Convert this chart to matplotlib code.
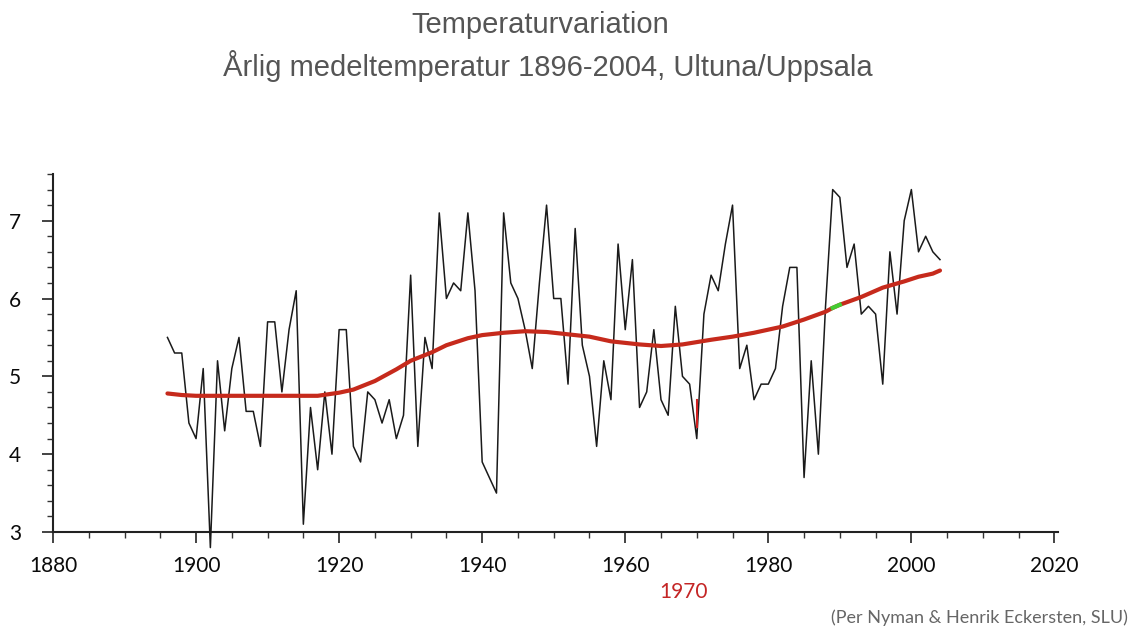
import matplotlib.pyplot as plt
from matplotlib.ticker import MultipleLocator

years = list(range(1896, 2005))
temps = [5.5, 5.3, 5.3, 4.4, 4.2, 5.1, 2.8, 5.2, 4.3, 5.1,
         5.5, 4.55, 4.55, 4.1, 5.7, 5.7, 4.8, 5.6, 6.1, 3.1,
         4.6, 3.8, 4.8, 4.0, 5.6, 5.6, 4.1, 3.9, 4.8, 4.7,
         4.4, 4.7, 4.2, 4.5, 6.3, 4.1, 5.5, 5.1, 7.1, 6.0,
         6.2, 6.1, 7.1, 6.1, 3.9, 3.7, 3.5, 7.1, 6.2, 6.0,
         5.6, 5.1, 6.2, 7.2, 6.0, 6.0, 4.9, 6.9, 5.4, 5.0,
         4.1, 5.2, 4.7, 6.7, 5.6, 6.5, 4.6, 4.8, 5.6, 4.7,
         4.5, 5.9, 5.0, 4.9, 4.2, 5.8, 6.3, 6.1, 6.7, 7.2,
         5.1, 5.4, 4.7, 4.9, 4.9, 5.1, 5.9, 6.4, 6.4, 3.7,
         5.2, 4.0, 5.9, 7.4, 7.3, 6.4, 6.7, 5.8, 5.9, 5.8,
         4.9, 6.6, 5.8, 7.0, 7.4, 6.6, 6.8, 6.6, 6.5]

# utjamnad kurva (avlast ur bilden)
smooth_years = [1896, 1898, 1900, 1905, 1910, 1915, 1917, 1920, 1922, 1925,
                1928, 1930, 1933, 1935, 1938, 1940, 1943, 1946, 1949, 1952,
                1955, 1958, 1960, 1962, 1965, 1968, 1970, 1972, 1975, 1978,
                1980, 1982, 1985, 1988, 1989, 1990, 1993, 1996, 1999, 2001,
                2003, 2004]
smooth_vals = [4.78, 4.76, 4.75, 4.75, 4.75, 4.75, 4.75, 4.79, 4.83, 4.94,
               5.09, 5.20, 5.31, 5.40, 5.49, 5.53, 5.56, 5.58, 5.57, 5.54,
               5.51, 5.45, 5.43, 5.41, 5.39, 5.41, 5.44, 5.47, 5.51, 5.56,
               5.60, 5.64, 5.73, 5.83, 5.88, 5.92, 6.02, 6.14, 6.22, 6.28,
               6.32, 6.36]

fig = plt.figure(figsize=(11.35, 6.31), dpi=100)
ax = fig.add_axes([53 / 1135, 1 - 532 / 631, 1005 / 1135, 358 / 631])

ax.plot(years, temps, color='#1a1a1a', lw=1.1, clip_on=False, zorder=3)
ax.plot(smooth_years, smooth_vals, color='#c62a1c', lw=3, solid_capstyle='round', zorder=4)
i = smooth_years.index(1989)
ax.plot(smooth_years[i:i + 2], smooth_vals[i:i + 2], color='#44cc33', lw=3, zorder=5)
ax.plot([1970, 1970], [4.35, 4.7], color='#d02020', lw=1.5, zorder=5)

ax.set_xlim(1880, 2020.5)
ax.set_ylim(3, 7.6)
ax.xaxis.set_major_locator(MultipleLocator(20))
ax.xaxis.set_minor_locator(MultipleLocator(5))
ax.yaxis.set_major_locator(MultipleLocator(1))
ax.yaxis.set_minor_locator(MultipleLocator(0.2))

for s in ['top', 'right']:
    ax.spines[s].set_visible(False)
for s in ['left', 'bottom']:
    ax.spines[s].set_color('#222222')
    ax.spines[s].set_linewidth(1.5)

ax.tick_params(axis='both', which='major', length=8, width=1.2, color='#222222',
               labelsize=15, labelcolor='#0a0a0a')
ax.tick_params(axis='both', which='minor', length=4, width=1.0, color='#333333')
ax.tick_params(axis='y', which='major', pad=15)
ax.tick_params(axis='x', which='major', pad=9)
for lab in ax.get_xticklabels() + ax.get_yticklabels():
    lab.set_family('Lato')

fig.text(540 / 1135, 1 - 33 / 631, 'Temperaturvariation', ha='center', va='baseline',
         fontsize=21, color='#555555', family='Liberation Sans')
fig.text(548 / 1135, 1 - 76 / 631, 'Årlig medeltemperatur 1896-2004, Ultuna/Uppsala',
         ha='center', va='baseline', fontsize=21, color='#555555',
         family='Liberation Sans')
fig.text(684 / 1135, 1 - 592 / 631, '1970', ha='center', va='center', fontsize=15,
         color='#c42525', family='Lato')
fig.text(1128 / 1135, 1 - 618 / 631, '(Per Nyman & Henrik Eckersten, SLU)', ha='right',
         va='center', fontsize=13, color='#666666', family='Lato')

fig.savefig('out.png', dpi=100)
